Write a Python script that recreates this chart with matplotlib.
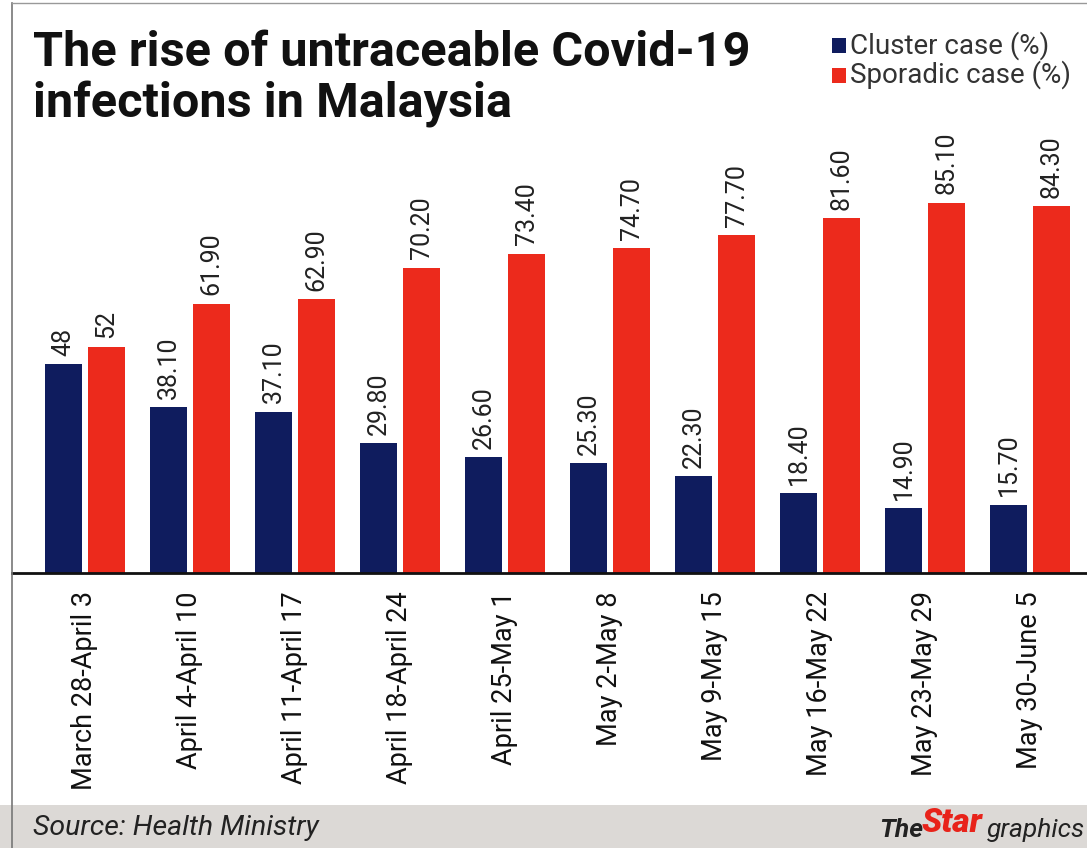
import matplotlib
matplotlib.use("Agg")
import matplotlib.pyplot as plt
from matplotlib.patches import Rectangle
from matplotlib.lines import Line2D
import numpy as np

categories = ["March 28-April 3", "April 4-April 10", "April 11-April 17", "April 18-April 24",
              "April 25-May 1", "May 2-May 8", "May 9-May 15", "May 16-May 22",
              "May 23-May 29", "May 30-June 5"]
cluster = [48, 38.10, 37.10, 29.80, 26.60, 25.30, 22.30, 18.40, 14.90, 15.70]
sporadic = [52, 61.90, 62.90, 70.20, 73.40, 74.70, 77.70, 81.60, 85.10, 84.30]
cluster_labels = ["48", "38.10", "37.10", "29.80", "26.60", "25.30", "22.30", "18.40", "14.90", "15.70"]
sporadic_labels = ["52", "61.90", "62.90", "70.20", "73.40", "74.70", "77.70", "81.60", "85.10", "84.30"]

W, H = 1087, 848
fig = plt.figure(figsize=(W / 100, H / 100), dpi=100)
fig.patch.set_facecolor("white")

FONT = "Roboto"
navy = "#0f1c5e"
red = "#ec2a1c"

ax = fig.add_axes([12 / W, (H - 573) / H, 1075 / W, 443 / H])
ax.set_facecolor("none")
x = np.arange(len(categories))
bw = 0.35
off = 0.205
ax.bar(x - off, cluster, bw, color=navy)
ax.bar(x + off, sporadic, bw, color=red)
ax.set_xlim(-0.695, 9.543)
ax.set_ylim(0, 101.8)
for i in range(len(categories)):
    ax.annotate(cluster_labels[i], (x[i] - off, cluster[i]), xytext=(0, 6),
                textcoords="offset points", rotation=90, ha="center", va="bottom",
                fontsize=18, family=FONT, color="#222222")
    ax.annotate(sporadic_labels[i], (x[i] + off, sporadic[i]), xytext=(0, 6),
                textcoords="offset points", rotation=90, ha="center", va="bottom",
                fontsize=18, family=FONT, color="#222222")
for s in ["top", "right", "left"]:
    ax.spines[s].set_visible(False)
ax.spines["bottom"].set_linewidth(2)
ax.spines["bottom"].set_color("#111111")
ax.set_yticks([])
ax.set_xticks(x)
ax.set_xticklabels(categories, rotation=90, fontsize=19.5, family=FONT, color="#111111")
ax.tick_params(axis="x", length=0, pad=13)

# footer band
fig.patches.append(Rectangle((0, 0), 1, 43 / H, transform=fig.transFigure,
                             facecolor="#dcd9d6", edgecolor="none", zorder=0))
# border lines
fig.add_artist(Line2D([12 / W, 12 / W], [0, 1 - 3 / H], transform=fig.transFigure,
                      color="#777777", lw=1.2))
fig.add_artist(Line2D([12 / W, 1], [1 - 3 / H, 1 - 3 / H], transform=fig.transFigure,
                      color="#999999", lw=1))

# title
fig.text(33 / W, 1 - 66 / H, "The rise of untraceable Covid-19",
         fontsize=35, fontweight="bold", family=FONT, color="#111111",
         va="baseline", ha="left")
fig.text(33 / W, 1 - 118 / H, "infections in Malaysia",
         fontsize=35, fontweight="bold", family=FONT, color="#111111",
         va="baseline", ha="left")

# legend
fig.patches.append(Rectangle((832 / W, 1 - 53 / H), 14 / W, 15 / H, transform=fig.transFigure,
                             facecolor=navy, edgecolor="none"))
fig.patches.append(Rectangle((832 / W, 1 - 83 / H), 14 / W, 15 / H, transform=fig.transFigure,
                             facecolor=red, edgecolor="none"))
fig.text(850 / W, 1 - 46 / H, "Cluster case (%)", fontsize=20, family=FONT,
         color="#333333", va="center", ha="left")
fig.text(850 / W, 1 - 75 / H, "Sporadic case (%)", fontsize=20, family=FONT,
         color="#333333", va="center", ha="left")

# footer text
fig.text(33 / W, 1 - 828 / H, "Source: Health Ministry", fontsize=20.5, style="italic",
         family=FONT, color="#222222", va="center", ha="left")

renderer = fig.canvas.get_renderer()
t_graph = fig.text(1085 / W, 1 - 830 / H, "graphics", fontsize=19, style="italic",
                   family=FONT, color="#222222", va="center", ha="right")
bb = t_graph.get_window_extent(renderer)
t_star = fig.text((bb.x0 - 4) / W, 1 - 823 / H, "Star", fontsize=24, style="italic",
                  fontweight="black", family=FONT, color="#e8231a", va="center", ha="right")
bb2 = t_star.get_window_extent(renderer)
fig.text((bb2.x0 + 1) / W, 1 - 830 / H, "The", fontsize=19, style="italic",
         fontweight="bold", family=FONT, color="#222222", va="center", ha="right")

fig.savefig("out.png", dpi=100)
